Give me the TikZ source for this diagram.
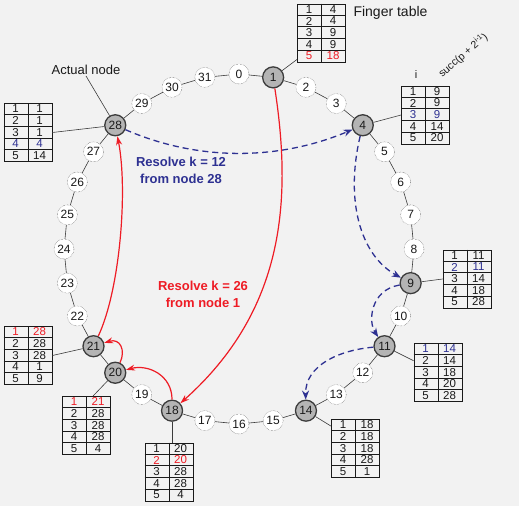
\documentclass[tikz,border=0pt]{standalone}
\usepackage{fontspec}
\setmainfont{Liberation Sans}
\usetikzlibrary{calc,arrows.meta}
\definecolor{bg}{HTML}{F2F2F2}
\definecolor{nblue}{HTML}{2E3192}
\definecolor{nred}{HTML}{EE1C25}
\definecolor{ink}{HTML}{1A1A1A}
\definecolor{nodegray}{HTML}{B4B4B4}
\tikzset{
  keynode/.style={circle, draw=ink!80, densely dotted, fill=white, minimum size=20pt, inner sep=0pt, font=\fontsize{12}{12}\selectfont, text=ink},
  peernode/.style={circle, draw=ink!85, line width=1.3pt, fill=nodegray, minimum size=21pt, inner sep=0pt, font=\fontsize{12}{12}\selectfont, text=ink},
  ring/.style={draw=ink!85, line width=0.6pt},
  tabline/.style={draw=ink, line width=0.8pt},
  tabframe/.style={draw=ink, line width=0.8pt, minimum width=48pt, minimum height=58pt, inner sep=0pt},
  tabcell/.style={inner sep=0pt, font=\fontsize{11.5}{11.5}\selectfont},
  leader/.style={draw=ink!85, line width=0.6pt},
  bluearrow/.style={draw=nblue, line width=1.3pt, dash pattern=on 6pt off 4pt, -{Stealth[length=9pt, width=7pt]}},
  redarrow/.style={draw=nred, line width=1.2pt, -{Stealth[length=9pt, width=6pt]}},
  bigtext/.style={font=\fontsize{13}{17}\selectfont\bfseries, align=center},
}
\newcommand{\ftab}[3]{%
  \node[tabframe] (#1) at #2 {};
  \draw[tabline] (#1.north) -- (#1.south);
  \foreach \k in {1,2,3,4} {\draw[tabline] ($(#1.north west)+(0,\k*11.6)$) -- ($(#1.north east)+(0,\k*11.6)$);}
  \foreach \a/\b/\c [count=\r] in {#3} {
    \node[tabcell, text=\c] at ($(#1.north west)+(12,{(\r-0.5)*11.6})$) {\a};
    \node[tabcell, text=\c] at ($(#1.north west)+(36,{(\r-0.5)*11.6})$) {\b};
  }
}
\begin{document}
\begin{tikzpicture}[x=1pt, y=-1pt]
\useasboundingbox (0,0) rectangle (519,506);
\fill[bg] (0,0) rectangle (519,506);

% ring nodes
\foreach \i in {0,2,3,5,6,7,8,10,12,13,15,16,17,19,22,23,24,25,26,27,29,30,31}
  \node[keynode] (n\i) at ({239+175*cos(90-\i*11.25)},{249-175*sin(90-\i*11.25)}) {\i};
\foreach \i in {1,4,9,11,14,18,20,21,28}
  \node[peernode] (n\i) at ({239+175*cos(90-\i*11.25)},{249-175*sin(90-\i*11.25)}) {\i};
\foreach \i [evaluate=\i as \j using {int(mod(\i+1,32))}] in {0,...,31}
  \draw[ring] (n\i) -- (n\j);

% finger tables
\ftab{t1}{(321.5,33)}{1/4/ink,2/4/ink,3/9/ink,4/9/ink,5/18/nred}
\ftab{t28}{(28,132.5)}{1/1/ink,2/1/ink,3/1/ink,4/4/nblue,5/14/ink}
\ftab{t4}{(425.5,115)}{1/9/ink,2/9/ink,3/9/nblue,4/14/ink,5/20/ink}
\ftab{t9}{(467,279)}{1/11/ink,2/11/nblue,3/14/ink,4/18/ink,5/28/ink}
\ftab{t11}{(438,372.5)}{1/14/nblue,2/14/ink,3/18/ink,4/20/ink,5/28/ink}
\ftab{t14}{(355.5,448.5)}{1/18/ink,2/18/ink,3/18/ink,4/28/ink,5/1/ink}
\ftab{t21}{(28,355.5)}{1/28/nred,2/28/ink,3/28/ink,4/1/ink,5/9/ink}
\ftab{t20}{(86.5,425.5)}{1/21/nred,2/28/ink,3/28/ink,4/28/ink,5/4/ink}
\ftab{t18}{(169,472)}{1/20/ink,2/20/nred,3/28/ink,4/28/ink,5/4/ink}

% leaders node -> table
\draw[leader] (n1) -- ($(t1.south west)+(0,-3)$);
\draw[leader] (n28) -- (t28.east);
\draw[leader] (n4) -- (t4.west);
\draw[leader] (n9) -- (t9.west);
\draw[leader] (n11) -- ($(t11.north west)!0.3!(t11.south west)$);
\draw[leader] (n14) -- ($(t14.north west)!0.12!(t14.south west)$);
\draw[leader] (n21) -- (t21.east);
\draw[leader] (n20) -- ($(t20.north)+(6.5,0)$);
\draw[leader] (n18) -- (n18 |- t18.north);

% labels
\node[anchor=west, font=\fontsize{14}{14}\selectfont, text=ink] (ftl) at (350,13) {Finger table};
\node[font=\fontsize{13}{13}\selectfont, text=ink, inner sep=1pt] (anl) at (86,70) {Actual node};
\draw[leader] (anl.south) -- (n28);
\node[font=\fontsize{11}{11}\selectfont, text=ink] (il) at (416,75) {i};
\node[font=\fontsize{10.5}{10.5}\selectfont, text=ink, rotate=41, inner sep=0pt] (sl) at (463,55) {succ(p + 2\textsuperscript{i-1})};

% lookup k = 12 (blue)
\draw[bluearrow] (n28) .. controls (200,162) and (280,160) .. (n4);
\draw[bluearrow] (n4) .. controls (345,200) and (360,255) .. (n9);
\draw[bluearrow] (n9) .. controls (370,290) and (368,322) .. (n11);
\draw[bluearrow] (n11) .. controls (340,350) and (305,365) .. (n14);
\node[bigtext, text=nblue] (lb) at (181,170.5) {Resolve k = 12\\from node 28};

% lookup k = 26 (red)
\draw[redarrow] (n1) .. controls (292,200) and (285,310) .. (n18);
\draw[redarrow] (n18) .. controls (172,375) and (148,364) .. (n20);
\draw[redarrow] (n20) .. controls (126,350) and (120,338) .. (n21);
\draw[redarrow] (n21) .. controls (120,290) and (128,190) .. (n28);
\node[bigtext, text=nred] (lr) at (203,294.5) {Resolve k = 26\\from node 1};
\end{tikzpicture}
\end{document}
